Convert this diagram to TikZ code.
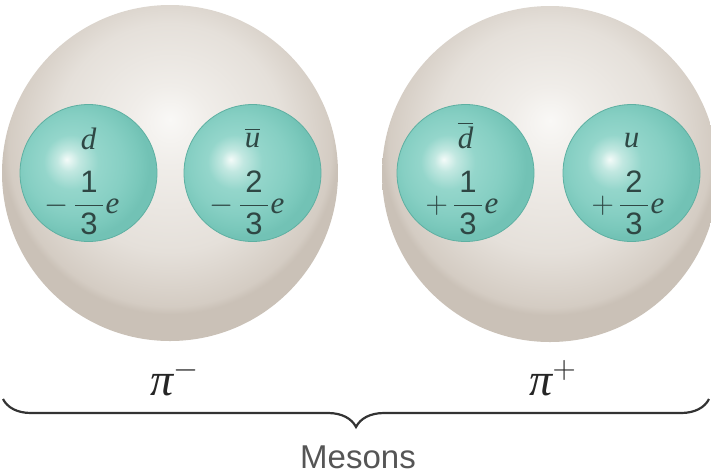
\documentclass[tikz,border=0pt]{standalone}
\usepackage{fix-cm}
\usepackage{amsmath}
\usepackage{fontspec}
\newfontfamily\sansf{Liberation Sans}
\newfontfamily\seri{Liberation Serif}
\usetikzlibrary{decorations.pathreplacing}

\definecolor{mW}{HTML}{F9F8F6}
\definecolor{mA}{HTML}{F0EDE9}
\definecolor{mB}{HTML}{E5E0DA}
\definecolor{mC}{HTML}{D4CCC3}
\definecolor{mD}{HTML}{CAC1B7}
\definecolor{qW}{HTML}{F4FBF9}
\definecolor{qA}{HTML}{C2E8E1}
\definecolor{qB}{HTML}{94D6CB}
\definecolor{qC}{HTML}{86CFC3}
\definecolor{qD}{HTML}{7AC8BB}
\definecolor{qE}{HTML}{72C2B5}
\definecolor{qline}{HTML}{5EB0A2}
\definecolor{qtext}{HTML}{2F4744}
\definecolor{bracec}{HTML}{333333}
\definecolor{mesonc}{HTML}{555555}

\pgfdeclareradialshading{mesonshade}{\pgfpoint{0bp}{8bp}}{%
  color(0bp)=(mW); color(6bp)=(mA); color(17bp)=(mB); color(24bp)=(mC); color(25bp)=(mD); color(50bp)=(mD)}
\pgfdeclareradialshading{quarkshade}{\pgfpoint{-8bp}{5bp}}{%
  color(0bp)=(qW); color(4bp)=(qA); color(10bp)=(qB); color(18bp)=(qC); color(23bp)=(qD); color(26bp)=(qE); color(50bp)=(qE)}

\newcommand{\itl}[1]{\mbox{\seri\itshape #1}}
\newcommand{\chg}[3]{$\displaystyle #1\mkern3mu\frac{\mbox{\sansf\,#2\,}}{\mbox{\sansf\,#3\,}}\mkern1mu\itl{e}$}

\tikzset{
  meson/.style={circle, shading=mesonshade, minimum size=336pt, inner sep=0pt},
  quark/.style={circle, shading=quarkshade, minimum size=137pt, inner sep=0pt, draw=qline, line width=0.8pt},
  qlabel/.style={text=qtext, font=\fontsize{31}{35}\selectfont, inner sep=0pt},
  pilabel/.style={font=\fontsize{46}{50}\selectfont, inner sep=0pt, text=black!85},
  meslabel/.style={font=\sansf\fontsize{33}{38}\selectfont, text=mesonc, inner sep=0pt},
  bracestyle/.style={draw=bracec, line width=2.2pt, decorate, decoration={brace, amplitude=28pt}}
}

\begin{document}
\begin{tikzpicture}[x=1pt, y=-1pt]
\useasboundingbox (0,0) rectangle (711,475);
\begin{scope}
\clip (0,0) rectangle (711,475);
\node[meson] (L) at (170,173) {};
\node[meson] (R) at (550,174) {};
\end{scope}

\node[quark] (q1) at (88.5,173) {};
\node[quark] (q2) at (252.5,173) {};
\node[quark] (q3) at (465.5,173) {};
\node[quark] (q4) at (631.5,173) {};

\node[qlabel] (t1) at (88.5,139) {$\itl{d}$};
\node[qlabel] (t2) at (252.5,138) {$\overline{\itl{u}}$};
\node[qlabel] (t3) at (465.5,135) {$\overline{\itl{d}}$};
\node[qlabel] (t4) at (631.5,141) {$\itl{u}$};

\node[qlabel] (c1) at (82,203) {\chg{-}{1}{3}};
\node[qlabel] (c2) at (247,203) {\chg{-}{2}{3}};
\node[qlabel] (c3) at (462,203) {\chg{+}{1}{3}};
\node[qlabel] (c4) at (628,203) {\chg{+}{2}{3}};

\node[pilabel] (pm) at (175,378) {$\itl{π}^-$};
\node[pilabel] (pp) at (553,378) {$\itl{π}^+$};

\coordinate (bl) at (3,399);
\coordinate (br) at (709,399);
\draw[bracestyle] (br) -- (bl);

\node[meslabel] (mes) at (358,457) {Mesons};
\end{tikzpicture}
\end{document}
